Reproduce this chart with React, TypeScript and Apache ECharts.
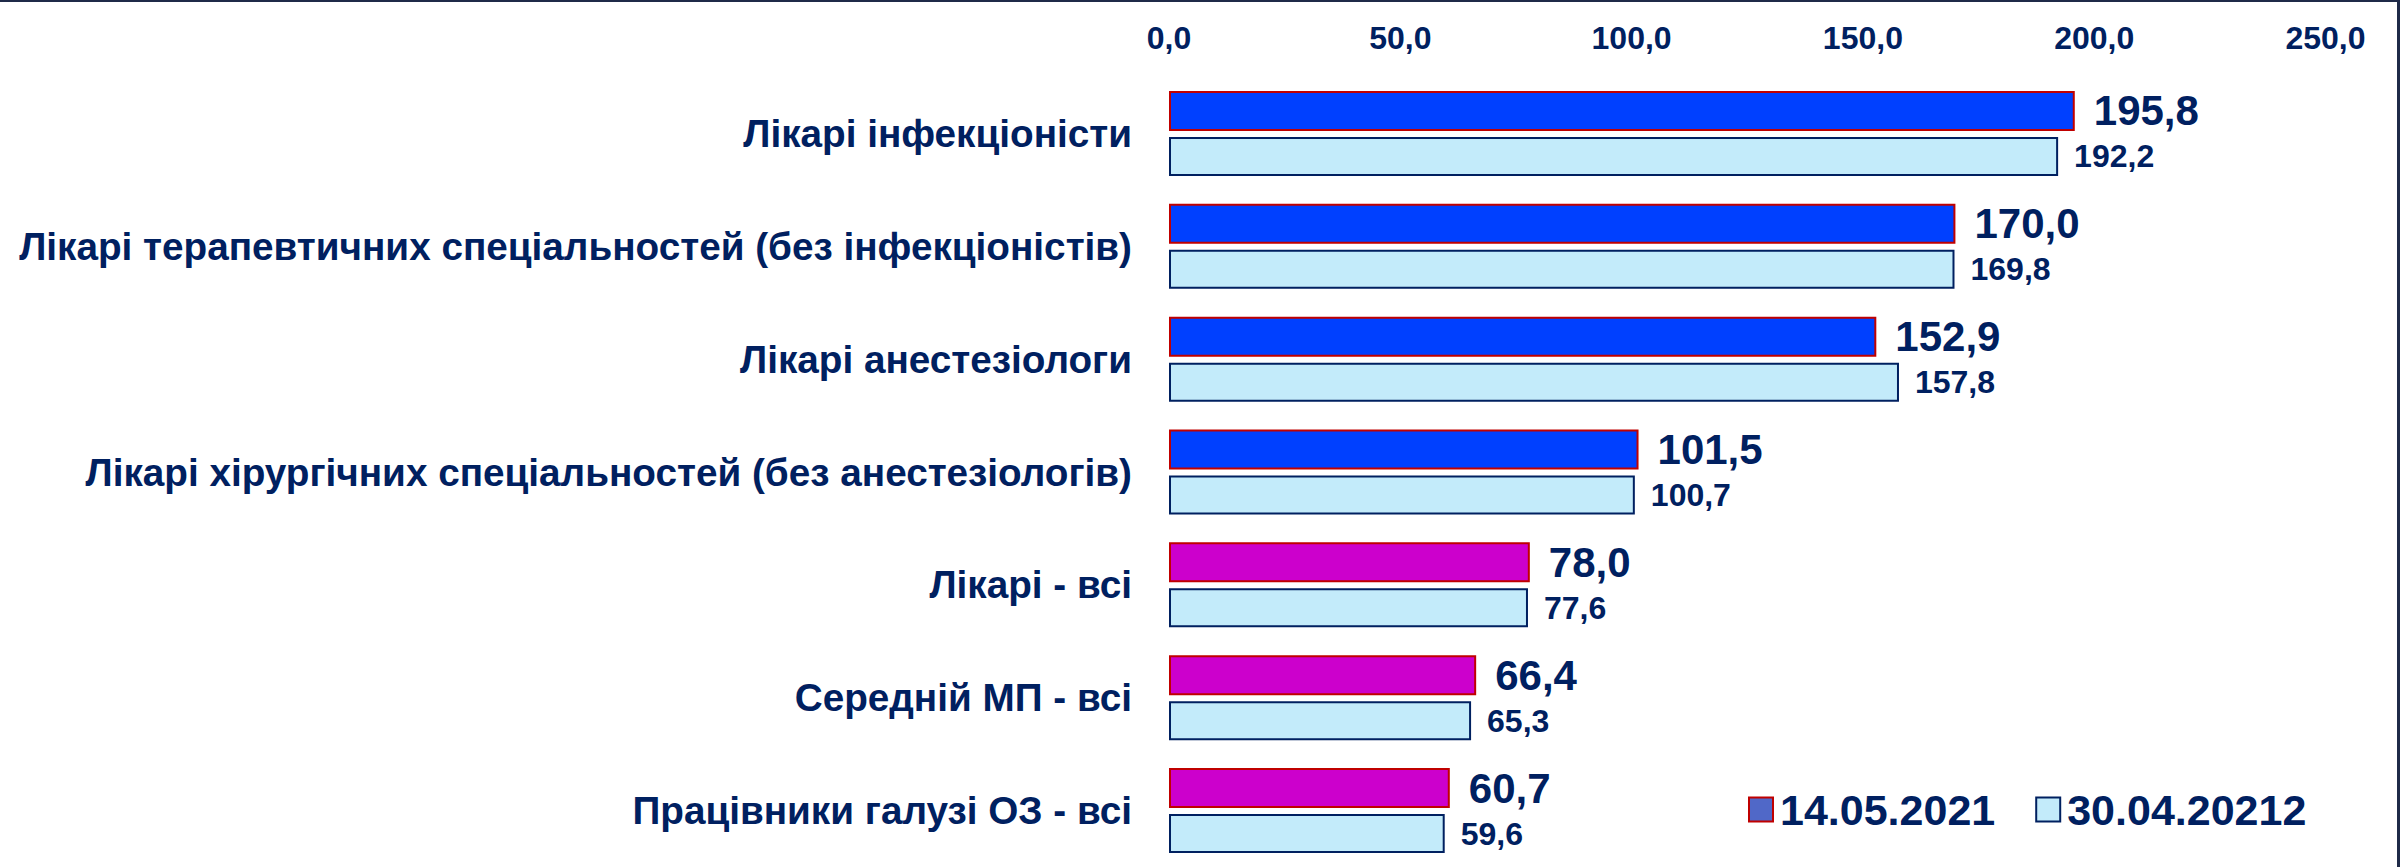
import React, { useEffect, useRef } from "react";
import * as echarts from "echarts";

const categories = [
  "Лікарі інфекціоністи",
  "Лікарі терапевтичних спеціальностей (без інфекціоністів)",
  "Лікарі анестезіологи",
  "Лікарі хірургічних спеціальностей (без анестезіологів)",
  "Лікарі - всі",
  "Середній МП - всі",
  "Працівники галузі ОЗ - всі",
];
const groupKind = ["special", "special", "special", "special", "all", "all", "all"];
const seriesNames = ["14.05.2021", "30.04.20212"];
const values2021May = [195.8, 170.0, 152.9, 101.5, 78.0, 66.4, 60.7];
const values2021Apr = [192.2, 169.8, 157.8, 100.7, 77.6, 65.3, 59.6];
const axisMin = 0;
const axisMax = 250;
const axisStep = 50;

const NAVY = "#002060";
const FONT = "'Liberation Sans', Arial, sans-serif";
const fmt = (v: number) => v.toFixed(1).replace(".", ",");

export default function App() {
  const ref = useRef<HTMLDivElement>(null);
  useEffect(() => {
    if (!ref.current) return;
    const chart = echarts.init(ref.current, null, { renderer: "svg" });
    chart.setOption({
      animation: false,
      backgroundColor: "#ffffff",
      textStyle: { fontFamily: FONT },
      grid: { left: 1169, right: 74.5, top: 77, height: 805, containLabel: false },
      xAxis: {
        type: "value",
        position: "top",
        min: axisMin,
        max: axisMax,
        interval: axisStep,
        axisLine: { show: false },
        axisTick: { show: false },
        splitLine: { show: false },
        axisLabel: {
          formatter: (v: number) => fmt(v),
          color: NAVY,
          fontSize: 32,
          fontWeight: "bold",
          fontFamily: FONT,
          margin: 23,
        },
      },
      yAxis: {
        type: "category",
        inverse: true,
        data: categories,
        axisLine: { show: false },
        axisTick: { show: false },
        axisLabel: {
          color: NAVY,
          fontSize: 38.7,
          fontWeight: "bold",
          fontFamily: FONT,
          margin: 37,
        },
      },
      legend: {
        left: 1743,
        top: 783,
        itemWidth: 24,
        itemHeight: 24,
        itemGap: 40,
        icon: "rect",
        textStyle: {
          color: NAVY,
          fontSize: 43,
          fontWeight: "bold",
          fontFamily: FONT,
          padding: [0, 0, 0, 2],
        },
        data: [
          { name: seriesNames[0], itemStyle: { color: "#5068C8", borderColor: "#C00000", borderWidth: 2 } },
          { name: seriesNames[1], itemStyle: { color: "#C3EBFA", borderColor: NAVY, borderWidth: 2 } },
        ],
      },
      series: [
        {
          name: seriesNames[0],
          type: "bar",
          barWidth: 40,
          barGap: "15%",
          data: values2021May.map((v, i) => ({
            value: v,
            itemStyle: { color: groupKind[i] === "all" ? "#CC00CC" : "#0040FF" },
          })),
          itemStyle: { color: "#0040FF", borderColor: "#C00000", borderWidth: 2 },
          label: {
            show: true,
            position: "right",
            distance: 19,
            formatter: (p: any) => fmt(p.value),
            color: NAVY,
            fontSize: 42,
            fontWeight: "bold",
            fontFamily: FONT,
          },
        },
        {
          name: seriesNames[1],
          type: "bar",
          barWidth: 39,
          data: values2021Apr,
          itemStyle: { color: "#C3EBFA", borderColor: NAVY, borderWidth: 2 },
          label: {
            show: true,
            position: "right",
            distance: 16,
            formatter: (p: any) => fmt(p.value),
            color: NAVY,
            fontSize: 32,
            fontWeight: "bold",
            fontFamily: FONT,
          },
        },
      ],
      graphic: [
        { type: "line", shape: { x1: 0, y1: 1, x2: 2400, y2: 1 }, style: { stroke: "#1F2A48", lineWidth: 2 }, z: 100 },
        { type: "line", shape: { x1: 2398.5, y1: 0, x2: 2398.5, y2: 867 }, style: { stroke: "#1F2A48", lineWidth: 3 }, z: 100 },
      ],
    });
    return () => chart.dispose();
  }, []);
  return (
    <div
      ref={ref}
      style={{ position: "fixed", left: 0, top: 0, width: 2400, height: 867, background: "#fff" }}
    />
  );
}
